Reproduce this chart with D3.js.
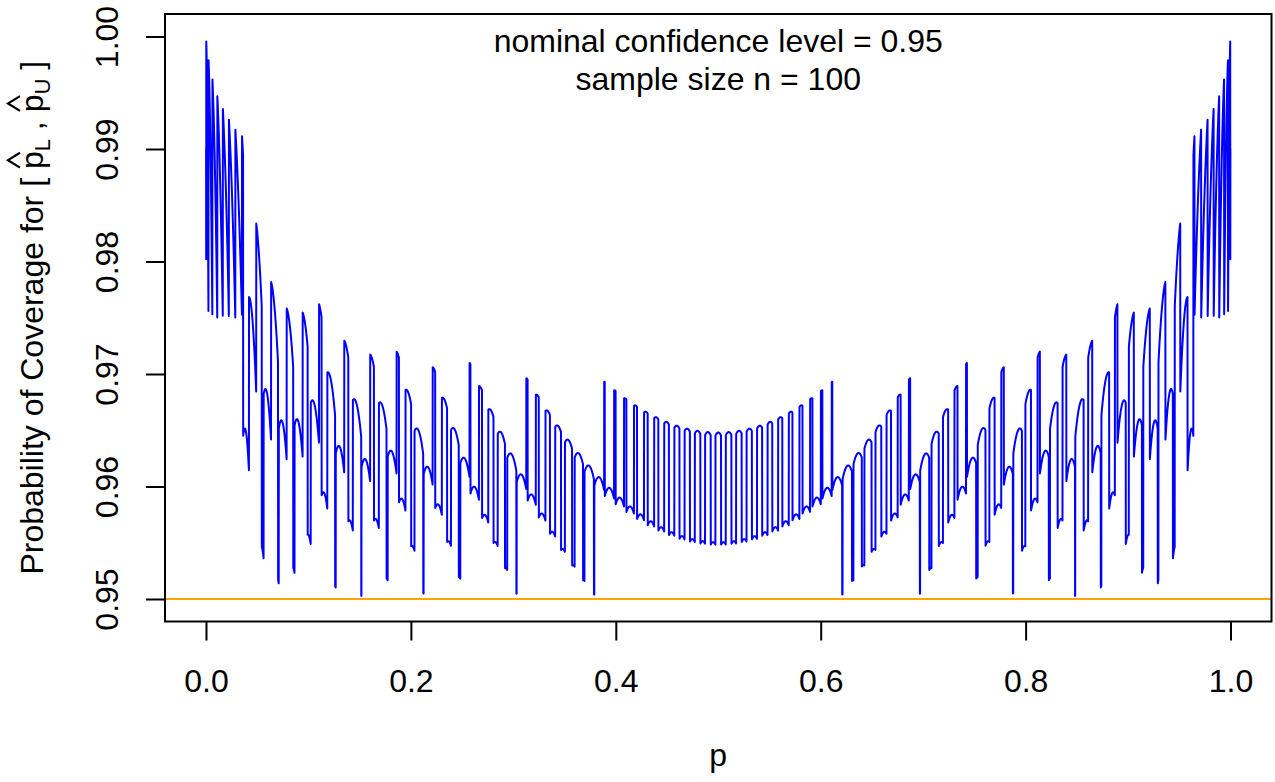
<!DOCTYPE html>
<html>
<head>
<meta charset="utf-8">
<script src="https://cdn.jsdelivr.net/npm/d3@7"></script>
<style>
  body { margin: 0; background: #ffffff; }
  text { font-family: "Liberation Sans", Arial, Helvetica, sans-serif; fill: #000; }
</style>
</head>
<body>
<svg id="chart" width="1275" height="782"></svg>
<script>
// Study settings
const sampleSize = 100;
const confidenceLevel = 0.95;
const pGridStep = 0.0001;           // p runs from 0.0001 to 0.9999

// Axes
const xDomain = [0, 1];
const yDomain = [0.95, 1.00];
const xTickValues = [0, 0.2, 0.4, 0.6, 0.8, 1.0];
const xTickLabels = ["0.0", "0.2", "0.4", "0.6", "0.8", "1.0"];
const yTickValues = [0.95, 0.96, 0.97, 0.98, 0.99, 1.00];
const yTickLabels = ["0.95", "0.96", "0.97", "0.98", "0.99", "1.00"];
const referenceLevel = 0.95;

// Text
const titleLines = ["nominal confidence level = 0.95", "sample size n = 100"];
const xAxisTitle = "p";

// ---------------------------------------------------------------
const svg = d3.select("#chart");
const box = { left: 165, right: 1271.5, top: 14, bottom: 621.5 };
const FONT = 32;

const xPad = 0.04 * (xDomain[1] - xDomain[0]);
const yPad = 0.04 * (yDomain[1] - yDomain[0]);
const x = d3.scaleLinear().domain([xDomain[0] - xPad, xDomain[1] + xPad]).range([box.left, box.right]);
const y = d3.scaleLinear().domain([yDomain[0] - yPad, yDomain[1] + yPad]).range([box.bottom, box.top]);

// Exact (Clopper-Pearson) limits for every outcome k = 0..n
const n = sampleSize;
const tail = (1 - confidenceLevel) / 2;
const logFact = [0];
for (let i = 1; i <= n; i++) logFact[i] = logFact[i - 1] + Math.log(i);
const logChoose = k => logFact[n] - logFact[k] - logFact[n - k];
function pmf(k, p) {
  if (p <= 0) return k === 0 ? 1 : 0;
  if (p >= 1) return k === n ? 1 : 0;
  return Math.exp(logChoose(k) + k * Math.log(p) + (n - k) * Math.log1p(-p));
}
function cdf(k, p) { let s = 0; for (let i = 0; i <= k; i++) s += pmf(i, p); return s; }
function bisect(f, target, increasing) {
  let lo = 0, hi = 1;
  for (let it = 0; it < 80; it++) {
    const mid = (lo + hi) / 2, v = f(mid);
    if ((v < target) === increasing) lo = mid; else hi = mid;
  }
  return (lo + hi) / 2;
}
const lower = d3.range(n + 1).map(k => k === 0 ? 0 : bisect(p => 1 - cdf(k - 1, p), tail, true));
const upper = d3.range(n + 1).map(k => k === n ? 1 : bisect(p => cdf(k, p), tail, false));

// Coverage: probability that the interval from X ~ Bin(n, p) contains p
const steps = Math.round(1 / pGridStep);
const coverage = [];
for (let i = 1; i < steps; i++) {
  const p = i / steps;
  let c = 0;
  for (let k = 0; k <= n; k++) if (lower[k] <= p && p <= upper[k]) c += pmf(k, p);
  coverage.push({ p, c });
}

// Plot region clip
svg.append("defs").append("clipPath").attr("id", "plotClip")
  .append("rect").attr("x", box.left).attr("y", box.top)
  .attr("width", box.right - box.left).attr("height", box.bottom - box.top);

const plot = svg.append("g").attr("clip-path", "url(#plotClip)");

plot.append("path")
  .datum(coverage)
  .attr("fill", "none")
  .attr("stroke", "#0000ff")
  .attr("stroke-width", 2)
  .attr("stroke-linejoin", "round")
  .attr("stroke-linecap", "round")
  .attr("d", d3.line().x(d => x(d.p)).y(d => y(d.c)));

plot.append("line")
  .attr("x1", box.left).attr("x2", box.right)
  .attr("y1", y(referenceLevel)).attr("y2", y(referenceLevel))
  .attr("stroke", "#ffa500").attr("stroke-width", 2);

// Frame
svg.append("rect")
  .attr("x", box.left).attr("y", box.top)
  .attr("width", box.right - box.left).attr("height", box.bottom - box.top)
  .attr("fill", "none").attr("stroke", "#000").attr("stroke-width", 2);

// Bottom axis
const gx = svg.append("g").attr("transform", `translate(0,${box.bottom})`)
  .call(d3.axisBottom(x).tickValues(xTickValues).tickSize(19)
    .tickFormat((d, i) => xTickLabels[i]));
gx.select(".domain").remove();
gx.selectAll(".tick line").attr("stroke", "#000").attr("stroke-width", 2);
gx.selectAll(".tick text")
  .attr("y", 70.5).attr("dy", null)
  .style("font-size", FONT + "px").attr("fill", "#000");

// Left axis
const gy = svg.append("g").attr("transform", `translate(${box.left},0)`)
  .call(d3.axisLeft(y).tickValues(yTickValues).tickSize(19)
    .tickFormat((d, i) => yTickLabels[i]));
gy.select(".domain").remove();
gy.selectAll(".tick line").attr("stroke", "#000").attr("stroke-width", 2);
gy.selectAll(".tick text")
  .attr("x", null).attr("dy", null)
  .attr("text-anchor", "middle")
  .attr("transform", "translate(-47,0) rotate(-90)")
  .style("font-size", FONT + "px").attr("fill", "#000");

// Titles inside the plot
svg.selectAll("text.title").data(titleLines).enter().append("text")
  .attr("class", "title")
  .attr("x", x(0.5)).attr("y", (d, i) => [52, 90][i])
  .attr("text-anchor", "middle")
  .style("font-size", FONT + "px")
  .text(d => d);

// x-axis title
svg.append("text")
  .attr("x", x(0.5)).attr("y", 766)
  .attr("text-anchor", "middle")
  .style("font-size", FONT + "px")
  .text(xAxisTitle);

// y-axis title with hatted, subscripted limits
const yl = svg.append("g").attr("transform", `translate(43,${(box.top + box.bottom) / 2}) rotate(-90)`);
const ylt = yl.append("text").attr("text-anchor", "middle")
  .style("font-size", FONT + "px").style("white-space", "pre");
ylt.append("tspan").text("Probability of Coverage for [ ");
ylt.append("tspan").text("p");
ylt.append("tspan").attr("dy", 7).style("font-size", "22px").text("L");
ylt.append("tspan").attr("dy", -7).text(" , ");
ylt.append("tspan").text("p");
ylt.append("tspan").attr("dy", 7).style("font-size", "22px").text("U");
ylt.append("tspan").attr("dy", -7).text(" ]");

const fullText = ylt.node().textContent;
const pIdx = [];
for (let i = 0; i < fullText.length; i++) if (fullText[i] === "p" && i > 25) pIdx.push(i);
pIdx.forEach(i => {
  const b = ylt.node().getExtentOfChar(i);
  const x0 = b.x + 1.5, x1 = b.x + b.width - 1.5, xm = (x0 + x1) / 2;
  yl.append("path")
    .attr("d", `M${x0},-23 L${xm},-35 L${x1},-23`)
    .attr("fill", "none").attr("stroke", "#000").attr("stroke-width", 2.2);
});
</script>
</body>
</html>
